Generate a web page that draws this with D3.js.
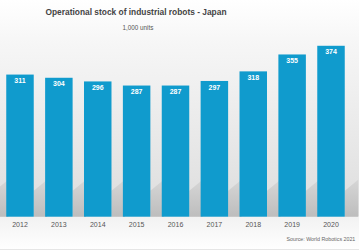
<!DOCTYPE html>
<html><head><meta charset="utf-8">
<script src="https://cdn.jsdelivr.net/npm/d3@7"></script>
<style>html,body{margin:0;padding:0;background:#fff;overflow:hidden}svg{display:block}</style>
</head><body>
<script>
const years = ["2012","2013","2014","2015","2016","2017","2018","2019","2020"];
const values = [311,304,296,287,287,297,318,355,374];
const title = "Operational stock of industrial robots - Japan";
const subtitle = "1,000 units";
const source = "Source: World Robotics 2021";

const W = 359, H = 250;
const svg = d3.select("body").append("svg").attr("width", W).attr("height", H);
const defs = svg.append("defs");
const bg = defs.append("linearGradient").attr("id","bg").attr("x1",0).attr("y1",0).attr("x2",0).attr("y2",1);
bg.append("stop").attr("offset","0%").attr("stop-color","#ffffff");
bg.append("stop").attr("offset","20%").attr("stop-color","#f6f6f6");
bg.append("stop").attr("offset","100%").attr("stop-color","#dddddd");
const fl = defs.append("linearGradient").attr("id","fl").attr("x1",0).attr("y1",0).attr("x2",0).attr("y2",1);
fl.append("stop").attr("offset","0%").attr("stop-color","#f2f2f2");
fl.append("stop").attr("offset","100%").attr("stop-color","#ffffff");
const sh = defs.append("linearGradient").attr("id","sh").attr("x1",0).attr("y1",0).attr("x2",0).attr("y2",1);
sh.append("stop").attr("offset","0%").attr("stop-color","#d6d6d6");
sh.append("stop").attr("offset","100%").attr("stop-color","#bdbdbd");

const x = d3.scaleBand().domain(years).range([6.25, 344.75]).paddingInner(0.293).paddingOuter(0);
const y = d3.scaleLinear().domain([0, 400]).range([216.7, 216.7 - 0.457*400]);
const B = y(0);

svg.append("rect").attr("x",0).attr("y",0).attr("width",W).attr("height",B).attr("fill","url(#bg)");
svg.append("rect").attr("x",0).attr("y",B).attr("width",W).attr("height",H-B).attr("fill","url(#fl)");
svg.append("line").attr("x1",0).attr("x2",W).attr("y1",H-0.5).attr("y2",H-0.5).attr("stroke","#e6e6e6");

const gap = x.step() - x.bandwidth();
const shadowStarts = [x(years[0]) - gap].concat(years.map(d => x(d) + x.bandwidth()));
svg.append("g").selectAll("path").data(shadowStarts).join("path")
  .attr("d", s => `M${s},${B} L${s},${B-26} L${s+gap+2},${B-37} L${s+gap+2},${B} Z`)
  .attr("fill","url(#sh)");

svg.append("g").selectAll("rect").data(values).join("rect")
  .attr("x",(d,i)=>x(years[i])).attr("y",d=>y(d))
  .attr("width",x.bandwidth()).attr("height",d=>B-y(d))
  .attr("fill","#109bcd");

svg.append("g").selectAll("text").data(values).join("text")
  .attr("x",(d,i)=>x(years[i])+x.bandwidth()/2).attr("y",d=>y(d)+8.6)
  .attr("text-anchor","middle").attr("fill","#fff")
  .attr("font-family","Liberation Sans, Arial, sans-serif").attr("font-weight","bold").attr("font-size",7)
  .text(d=>d);

const xAxis = d3.axisBottom(x).tickSize(0).tickPadding(0);
const gx = svg.append("g").attr("transform",`translate(0,${B})`).call(xAxis);
gx.select(".domain").remove();
gx.selectAll("text").attr("y",10.2).attr("dy",0).attr("fill","#555")
  .attr("font-family","Liberation Sans, Arial, sans-serif").attr("font-size",7);

svg.append("text").attr("x",136).attr("y",15.3).attr("text-anchor","middle")
  .attr("font-family","Liberation Sans, Arial, sans-serif").attr("font-weight","bold").attr("font-size",8.4)
  .attr("fill","#444").text(title);
svg.append("text").attr("x",138).attr("y",30).attr("text-anchor","middle")
  .attr("font-family","Liberation Sans, Arial, sans-serif").attr("font-size",6.3)
  .attr("fill","#555").text(subtitle);
svg.append("text").attr("x",355.3).attr("y",241.2).attr("text-anchor","end")
  .attr("font-family","Liberation Sans, Arial, sans-serif").attr("font-size",5.3)
  .attr("fill","#666").text(source);
</script>
</body></html>
